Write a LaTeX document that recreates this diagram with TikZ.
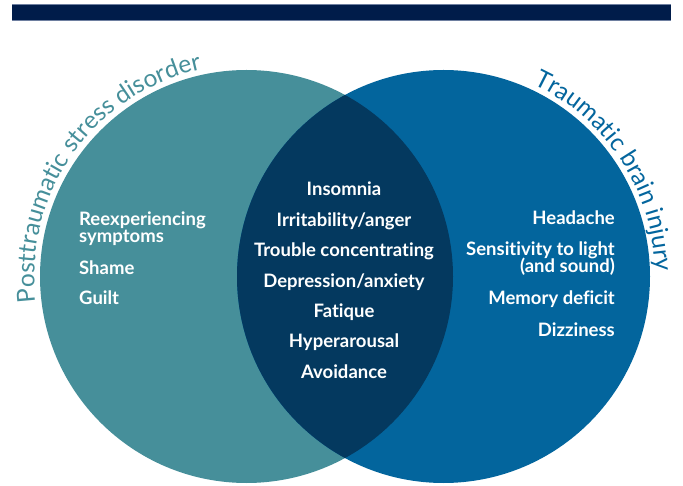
\documentclass[tikz,border=0pt]{standalone}
\usepackage{fontspec}
\setmainfont[Ligatures=NoCommon]{Lato}
\usetikzlibrary{decorations.text}

\definecolor{ptsdcol}{HTML}{468F9A}
\definecolor{tbicol}{HTML}{03659D}
\definecolor{bothcol}{HTML}{04395F}
\definecolor{barcol}{HTML}{001C4A}
\definecolor{baredge}{HTML}{6E7FA0}

\newcommand{\itemfont}{\fontsize{18.5}{19}\selectfont\bfseries}
\newcommand{\titlefont}{\fontsize{24.5}{25}\selectfont}

\begin{document}
\begin{tikzpicture}[x=1pt,y=1pt]

\tikzset{symptom/.style = {text=white, font=\itemfont, inner sep=0pt}}
\tikzset{ptsditem/.style = {symptom, anchor=base west, align=left}}
\tikzset{tbiitem/.style = {symptom, anchor=base east, align=right}}
\tikzset{bothitem/.style = {symptom, anchor=base}}
\tikzset{arctitle/.style = {decorate, decoration={text along path, text align=left}}}

\useasboundingbox (0,0) rectangle (683,485);

% top bar
\fill[barcol] (12,465) rectangle (671,481);
\draw[baredge, line width=0.7pt] (12,481) -- (671,481);
\draw[baredge, line width=0.7pt] (12,465) -- (671,465);

% circles
\coordinate (cL) at (246.5,208.5);
\coordinate (cR) at (443.5,208.5);
\fill[ptsdcol] (cL) circle[radius=206.5];
\fill[tbicol] (cR) circle[radius=206.5];
\begin{scope}
\clip (cL) circle[radius=206.5];
\fill[bothcol] (cR) circle[radius=206.5];
\end{scope}

% titles
\path[arctitle, decoration={text={|\titlefont\color{ptsdcol}|Posttraumatic stress disorder}}]
  (cL) ++(187:212) arc[start angle=187, end angle=90, radius=212];
\path[arctitle, decoration={text={|\titlefont\color{tbicol}|Traumatic brain injury}}]
  (cR) ++(65:212) arc[start angle=65, end angle=-15, radius=212];

% ptsd
\node[ptsditem] (reexp) at (79,242) {Reexperiencing\\[-2pt]symptoms};
\node[ptsditem] (shame) at (79,210) {Shame};
\node[ptsditem] (guilt) at (79,180) {Guilt};

% both
\node[bothitem] (insomnia) at (344,289) {Insomnia};
\node[bothitem] (irrit) at (344,258.5) {Irritability/anger};
\node[bothitem] (trouble) at (344,228) {Trouble concentrating};
\node[bothitem] (depress) at (344,197.5) {Depression/anxiety};
\node[bothitem] (fatique) at (344,167) {Fatique};
\node[bothitem] (hyper) at (344,137) {Hyperarousal};
\node[bothitem] (avoid) at (344,106.5) {Avoidance};

% tbi
\node[tbiitem] (headache) at (615,260) {Headache};
\node[tbiitem] (sensit) at (615,212) {Sensitivity to light\\[-2pt](and sound)};
\node[tbiitem] (memory) at (615,180) {Memory deficit};
\node[tbiitem] (dizzy) at (615,148) {Dizziness};

\end{tikzpicture}
\end{document}
